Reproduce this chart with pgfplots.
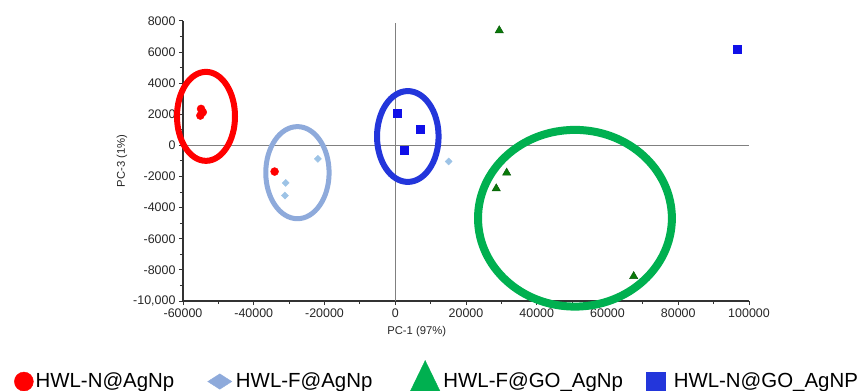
\documentclass[border=0pt]{standalone}
\usepackage{pgfplots}
\pgfplotsset{compat=1.18}
\usepackage{fontspec}
\setmainfont{Liberation Sans}
\definecolor{ellred}{HTML}{FF0000}
\definecolor{elllb}{HTML}{8EAADB}
\definecolor{ellblue}{HTML}{2336DB}
\definecolor{ellgreen}{HTML}{00B050}
\definecolor{ptlb}{HTML}{9DC3E6}
\definecolor{ptgreen}{HTML}{0A7A0A}
\definecolor{ptblue}{HTML}{1010E8}
\begin{document}
\begin{tikzpicture}
\useasboundingbox (0,0) rectangle (859bp,391bp);
\begin{axis}[
  at={(183bp,90bp)}, anchor=south west,
  scale only axis, width=566bp, height=280bp,
  xmin=-60000, xmax=100000, ymin=-10000, ymax=8000,
  clip=false, scaled ticks=false,
  axis x line*=bottom, axis y line*=left,
  axis line style={black!80, line width=1.2bp},
  xtick={-60000,-40000,-20000,0,20000,40000,60000,80000,100000},
  xticklabels={-60000,-40000,-20000,0,20000,40000,60000,80000,100000},
  ytick={-10000,-8000,-6000,-4000,-2000,0,2000,4000,6000,8000},
  yticklabels={{-10,000},-8000,-6000,-4000,-2000,0,2000,4000,6000,8000},
  minor x tick num=1, minor y tick num=1,
  tick align=outside,
  major tick length=4bp, minor tick length=3bp,
  tick style={black!80, line width=1bp},
  tick label style={font=\fontsize{12.5}{14}\selectfont, text=black!85},
  xlabel={PC-1 (97\%)}, ylabel={PC-3 (1\%)},
  label style={font=\fontsize{11.3}{13}\selectfont, text=black!85},
  xlabel style={at={(axis description cs:0.413,-0.111)}, anchor=center},
  ylabel style={at={(axis description cs:-0.108,0.5)}, anchor=center},
  legend columns=4,
  legend style={at={(axis description cs:-0.2986,-0.268)}, anchor=west,
    draw=none, fill=none, inner sep=0pt, column sep=0pt,
    font=\fontsize{20.5}{24}\selectfont,
    nodes={inner xsep=0pt}},
]
% legend entries
\addlegendimage{legend image code/.code={\fill[ellred] (9.5bp,-1bp) circle (9.5bp);}}
\addlegendentry{\makebox[174bp][l]{\hspace{2bp}HWL-N@AgNp}}
\addlegendimage{legend image code/.code={\fill[elllb] (0,-1bp) -- (12bp,6.7bp) -- (24bp,-1bp) -- (12bp,-8.7bp) -- cycle;}}
\addlegendentry{\makebox[178bp][l]{\hspace{4bp}HWL-F@AgNp}}
\addlegendimage{legend image code/.code={\fill[ellgreen] (0,-11bp) -- (15bp,20bp) -- (30bp,-11bp) -- cycle;}}
\addlegendentry{\makebox[206bp][l]{\hspace{3bp}HWL-F@GO\_AgNp}}
\addlegendimage{legend image code/.code={\fill[ellblue] (0,-10.5bp) rectangle (19bp,8.5bp);}}
\addlegendentry{\makebox[190bp][l]{\hspace{8bp}HWL-N@GO\_AgNP}}

% crosshair
\draw[black!50, line width=1.2bp] (axis cs:-60000,0) -- (axis cs:100000,0);
\draw[black!50, line width=1.2bp] (axis cs:0,-10000) -- (axis cs:0,7900);

% ellipses
\draw[ellred, line width=6bp] (axis cs:-53500,1870) ellipse [x radius=8200, y radius=2860];
\draw[elllb, line width=5bp] (axis cs:-27650,-1750) ellipse [x radius=8950, y radius=2960];
\draw[ellblue, line width=6bp] (axis cs:3550,575) ellipse [x radius=8700, y radius=2920];
\draw[ellgreen, line width=8bp] (axis cs:50800,-4680) ellipse [x radius=27400, y radius=5680];

% data
\addplot[forget plot, only marks, mark=*, mark size=4bp, color=ellred]
  coordinates {(-54900,2350) (-54400,2140) (-55100,1920) (-34100,-1680)};
\addplot[forget plot, only marks, mark=square*, mark size=2.5bp, mark options={rotate=45}, color=ptlb]
  coordinates {(-30980,-2410) (-31180,-3220) (-21870,-860) (15100,-1030)};
\addplot[forget plot, only marks, mark=triangle*, mark size=4.8bp, mark options={fill=ptgreen, draw=ptgreen!70!black}]
  coordinates {(29400,7390) (31500,-1760) (28550,-2770) (67400,-8410)};
\addplot[forget plot, only marks, mark=square*, mark size=4bp, color=ptblue]
  coordinates {(680,2080) (7180,1050) (2460,-300) (96800,6200)};
\end{axis}
\end{tikzpicture}
\end{document}
